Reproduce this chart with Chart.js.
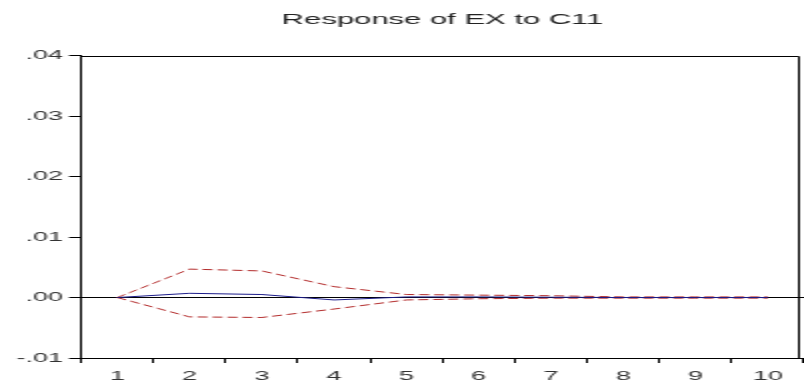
<!DOCTYPE html>
<html>
<head>
<meta charset="utf-8">
<title>Response of EX to C11</title>
<script src="https://cdn.jsdelivr.net/npm/chart.js@4"></script>
<style>
    html, body { margin: 0; padding: 0; background: #fff; overflow: hidden; }
    /* the source graph is stretched 2x sideways, so draw it narrow and stretch it */
    #wrap { width: 402px; height: 387px; transform: scaleX(2); transform-origin: 0 0; }
</style>
</head>
<body>
<div id="wrap"><canvas id="irfChart" width="402" height="387"></canvas></div>
<script>
// ============================================
// IMPULSE RESPONSE - EX to C11
// ============================================

const periods = ['1', '2', '3', '4', '5', '6', '7', '8', '9', '10'];
const response = [0, 0.0007, 0.0005, -0.0004, 0.0001, 0.0001, 0.00005, 0, 0, 0];
const upperBand = [0, 0.0047, 0.0044, 0.0018, 0.0005, 0.0004, 0.0003, 0.0001, 0.0001, 0.0001];
const lowerBand = [0, -0.0032, -0.0033, -0.0019, -0.0004, -0.0002, -0.0001, -0.0001, -0.0001, -0.0001];

const FONT = "'Liberation Sans', Arial, sans-serif";

// top and right sides of the plot box
const frameBox = {
    id: 'frameBox',
    afterDraw(chart) {
        const a = chart.chartArea;
        const ctx = chart.ctx;
        const r = chart.width - 2.5;
        ctx.save();
        ctx.strokeStyle = '#000';
        ctx.lineWidth = 1;
        ctx.beginPath();
        ctx.moveTo(a.left, Math.round(a.top) + 0.5);
        ctx.lineTo(r, Math.round(a.top) + 0.5);
        ctx.lineTo(r, a.bottom);
        ctx.stroke();
        ctx.restore();
    }
};

function initIrfChart() {
    const canvas = document.getElementById('irfChart');
    if (!canvas) return;

    const ctx = canvas.getContext('2d');

    new Chart(ctx, {
        type: 'line',
        data: {
            labels: periods,
            datasets: [{
                label: 'Response',
                data: response,
                borderColor: '#1c1c8a',
                borderWidth: 1,
                pointRadius: 0,
                fill: false,
                tension: 0
            }, {
                label: '+2 S.E.',
                data: upperBand,
                borderColor: '#b22a2a',
                borderWidth: 1,
                borderDash: [5, 2.5],
                pointRadius: 0,
                fill: false,
                tension: 0
            }, {
                label: '-2 S.E.',
                data: lowerBand,
                borderColor: '#b22a2a',
                borderWidth: 1,
                borderDash: [5, 2.5],
                pointRadius: 0,
                fill: false,
                tension: 0
            }]
        },
        options: {
            responsive: false,
            animation: false,
            devicePixelRatio: 1,
            layout: { padding: { left: 5.3, right: -2.5, top: 0, bottom: -2.2 } },
            plugins: {
                legend: { display: false },
                tooltip: { enabled: false },
                title: {
                    display: true,
                    text: 'Response of EX to C11',
                    color: '#222',
                    fullSize: false,
                    font: { family: FONT, size: 15.5, weight: 'normal' },
                    padding: { top: 10, bottom: 27.1 }
                }
            },
            scales: {
                x: {
                    offset: true,
                    grid: { offset: true, drawOnChartArea: false, tickLength: 5, tickColor: '#000' },
                    border: { display: true, color: '#000' },
                    ticks: { color: '#333', padding: 5, font: { family: FONT, size: 13.5 }, maxRotation: 0 }
                },
                y: {
                    min: -0.01,
                    max: 0.04,
                    grid: {
                        tickLength: 6,
                        tickColor: '#000',
                        color: (c) => (c.tick && Math.abs(c.tick.value) < 1e-9 ? '#000' : 'rgba(0,0,0,0)')
                    },
                    border: { display: true, color: '#000' },
                    ticks: {
                        stepSize: 0.01,
                        padding: 3,
                        color: '#333',
                        font: { family: FONT, size: 13.5 },
                        callback: (v) => v.toFixed(2).replace(/^(-?)0\./, '$1.')
                    }
                }
            }
        },
        plugins: [frameBox]
    });
}

initIrfChart();
</script>
</body>
</html>
